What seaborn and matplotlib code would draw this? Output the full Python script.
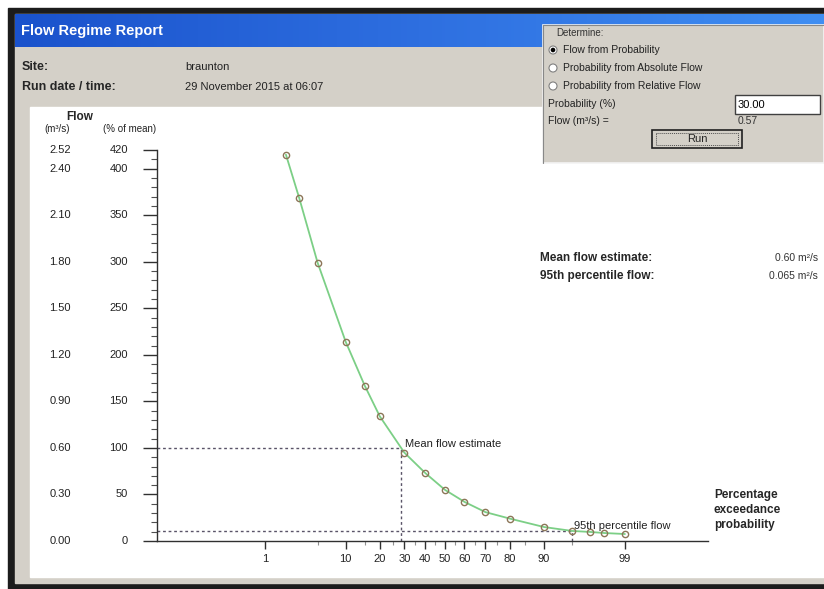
"""
Flow Regime Report - flow duration curve on a probability scale
"""

from statistics import NormalDist

import numpy as np
import matplotlib
matplotlib.use("Agg")
import matplotlib.pyplot as plt
import matplotlib.transforms as mtransforms
from matplotlib.colors import LinearSegmentedColormap
from matplotlib.patches import Rectangle, Circle
import seaborn as sns

prob = [2, 3, 5, 10, 15, 20, 30, 40, 50, 60, 70, 80, 90, 95, 97, 98, 99]
flow_pct = [415, 368, 299, 214, 167, 134, 95, 73, 55, 42, 31, 24, 15, 10.8, 9.7, 8.6, 7.5]
mean_flow = 0.60          # m3/s
mean_prob = 28.5          # % exceedance where flow = mean
p95_flow = 0.065          # m3/s
p95_prob = 95

x_major = [1, 10, 20, 30, 40, 50, 60, 70, 80, 90, 99]
x_minor = [5, 15, 25, 35, 45, 55, 65, 75, 85, 95]
y_major = [0, 50, 100, 150, 200, 250, 300, 350, 400, 420]

W, H = 824, 589
GREY = "#d4d0c8"

sns.set_style("white")
plt.rcParams["font.family"] = ["Liberation Sans", "DejaVu Sans"]
plt.rcParams["axes.unicode_minus"] = False

_nd = NormalDist()


def probit(p):
    p = np.clip(np.asarray(p, dtype=float), 1e-6, 100 - 1e-6)
    return np.vectorize(lambda v: _nd.inv_cdf(v / 100.0), otypes=[float])(p)


def inv_probit(z):
    z = np.asarray(z, dtype=float)
    return np.vectorize(lambda v: _nd.cdf(v) * 100.0, otypes=[float])(z)


fig = plt.figure(figsize=(W / 100, H / 100), dpi=100)
fig.patch.set_facecolor("white")

# background "window" drawn in pixel coordinates
bg = fig.add_axes([0, 0, 1, 1], zorder=-5)
bg.set_xlim(0, W)
bg.set_ylim(H, 0)
bg.axis("off")

bg.add_patch(Rectangle((8, 8), W - 8, H - 8, color="#1c1c1c"))
bg.add_patch(Rectangle((15, 14), W - 15, H - 20, color=GREY))
blue = LinearSegmentedColormap.from_list("bar", ["#1a52cc", "#2e6fe0", "#3f8ef2"])
bg.imshow(np.linspace(0, 1, 256)[None, :], cmap=blue, aspect="auto",
          extent=[15, W, 47, 14], zorder=1)
bg.add_patch(Rectangle((30, 107), W - 30, 470, color="white", zorder=1))

bg.text(21, 31, "Flow Regime Report", color="white", fontsize=10.5,
        fontweight="bold", va="center", zorder=3)
bg.text(22, 67, "Site:", fontsize=9, fontweight="bold", va="center")
bg.text(22, 87, "Run date / time:", fontsize=9, fontweight="bold", va="center")
bg.text(185, 67, "braunton", fontsize=8, va="center", color="#222222")
bg.text(185, 87, "29 November 2015 at 06:07", fontsize=8, va="center", color="#222222")

# "Determine" group box
bg.add_patch(Rectangle((543, 25), W - 543, 138, facecolor=GREY,
                       edgecolor="#f4f4f4", lw=1.2, zorder=2))
bg.plot([543, 543, W], [163, 25, 25], color="#888888", lw=0.8, zorder=3)
bg.text(556, 33, "Determine:", fontsize=7, va="center", color="#333333", zorder=3)
radio = ["Flow from Probability", "Probability from Absolute Flow",
         "Probability from Relative Flow"]
for i, label in enumerate(radio):
    yy = 50 + 18 * i
    bg.add_patch(Circle((553, yy), 4, facecolor="white", edgecolor="#808080",
                        lw=0.8, zorder=3))
    if i == 0:
        bg.add_patch(Circle((553, yy), 1.6, color="black", zorder=4))
    bg.text(563, yy, label, fontsize=7.5, va="center", color="#222222", zorder=3)
bg.text(548, 104, "Probability (%)", fontsize=7.5, va="center", color="#222222", zorder=3)
bg.add_patch(Rectangle((735, 95), 85, 19, facecolor="white", edgecolor="#404040",
                       lw=1, zorder=3))
bg.text(738, 104.5, "30.00", fontsize=8, va="center", color="black", zorder=4)
bg.text(548, 121, "Flow (m\u00b3/s) =", fontsize=7.5, va="center", color="#222222", zorder=3)
bg.text(738, 121, "0.57", fontsize=7.5, va="center", color="#333333", zorder=3)
bg.add_patch(Rectangle((652, 130), 90, 18, facecolor=GREY, edgecolor="#202020",
                       lw=1.2, zorder=3))
bg.add_patch(Rectangle((656, 133), 82, 12, facecolor="none", edgecolor="#505050",
                       lw=0.7, ls=(0, (1, 1)), zorder=4))
bg.text(697, 139, "Run", fontsize=8, ha="center", va="center", zorder=4)

# summary text
bg.text(540, 258, "Mean flow estimate:", fontsize=8.5, fontweight="bold", va="center")
bg.text(540, 276, "95th percentile flow:", fontsize=8.5, fontweight="bold", va="center")
bg.text(818, 258, f"{mean_flow:.2f} m\u00b2/s", fontsize=7.5, ha="right", va="center",
        color="#333333")
bg.text(818, 276, f"{p95_flow:.3f} m\u00b2/s", fontsize=7.5, ha="right", va="center",
        color="#333333")

# ---- plot axes ----
left, right, bottom, top = 157, 708, 541, 150
ax = fig.add_axes([left / W, 1 - bottom / H, (right - left) / W, (bottom - top) / H])
ax.patch.set_alpha(0)
ax.set_xscale("function", functions=(probit, inv_probit))
ax.set_xlim(inv_probit(-3.72), inv_probit(3.40))
ax.set_ylim(0, 420)

p95_pct = p95_flow / mean_flow * 100
x0 = inv_probit(-3.72)
dash = dict(color="#5a5468", lw=1, ls=(0, (2, 2)), zorder=2)
ax.plot([x0, mean_prob], [100, 100], **dash)
ax.plot([mean_prob, mean_prob], [0, 100], **dash)
ax.plot([x0, p95_prob], [p95_pct, p95_pct], **dash)
ax.plot([p95_prob, p95_prob], [0, p95_pct], **dash)

sns.lineplot(x=prob, y=flow_pct, ax=ax, color="#7ccf86", lw=1.3, marker="o",
             ms=4.5, mfc="none", mec="#8c7658", mew=1, zorder=3)

ax.text(mean_prob * 1.06, 104, "Mean flow estimate", fontsize=8, va="center",
        color="#222222")
ax.text(p95_prob * 1.002, p95_pct + 5, "95th percentile flow", fontsize=8,
        va="center", color="#222222")

for s in ["top", "right"]:
    ax.spines[s].set_visible(False)
for s in ["left", "bottom"]:
    ax.spines[s].set_color("#303030")
    ax.spines[s].set_linewidth(1)

ax.set_xticks(x_major)
ax.set_xticklabels([str(v) for v in x_major], fontsize=8, color="#222222")
ax.set_xticks(x_minor, minor=True)
ax.tick_params(axis="x", which="both", bottom=True, direction="out")
ax.tick_params(axis="x", which="major", length=6, width=1, color="#303030", pad=3)
ax.tick_params(axis="x", which="minor", length=3, width=0.8, color="#909090")

ax.set_yticks(y_major)
ax.set_yticks(np.arange(0, 421, 10), minor=True)
ax.tick_params(axis="y", which="both", left=True, direction="out", labelleft=False)
ax.tick_params(axis="y", which="major", length=10, width=1, color="#303030")
ax.tick_params(axis="y", which="minor", length=4, width=0.8, color="#505050")

# two columns of y labels: m3/s and % of mean
trans = mtransforms.blended_transform_factory(fig.transFigure, ax.transData)
for v in y_major:
    ax.text(60 / W, v, f"{v * mean_flow / 100:.2f}", transform=trans, fontsize=8,
            ha="center", va="center", color="#222222")
    ax.text(128 / W, v, f"{v}", transform=trans, fontsize=8, ha="right",
            va="center", color="#222222")

bg.text(80, 117, "Flow", fontsize=8.5, fontweight="bold", ha="center", va="center")
bg.text(57, 129, "(m\u00b3/s)", fontsize=7, ha="center", va="center", color="#222222")
bg.text(130, 129, "(% of mean)", fontsize=7, ha="center", va="center", color="#222222")

bg.text(714, 510, "Percentage\nexceedance\nprobability", fontsize=8.5,
        fontweight="bold", va="center", linespacing=1.35)

fig.savefig("out.png", dpi=100)
plt.close(fig)
